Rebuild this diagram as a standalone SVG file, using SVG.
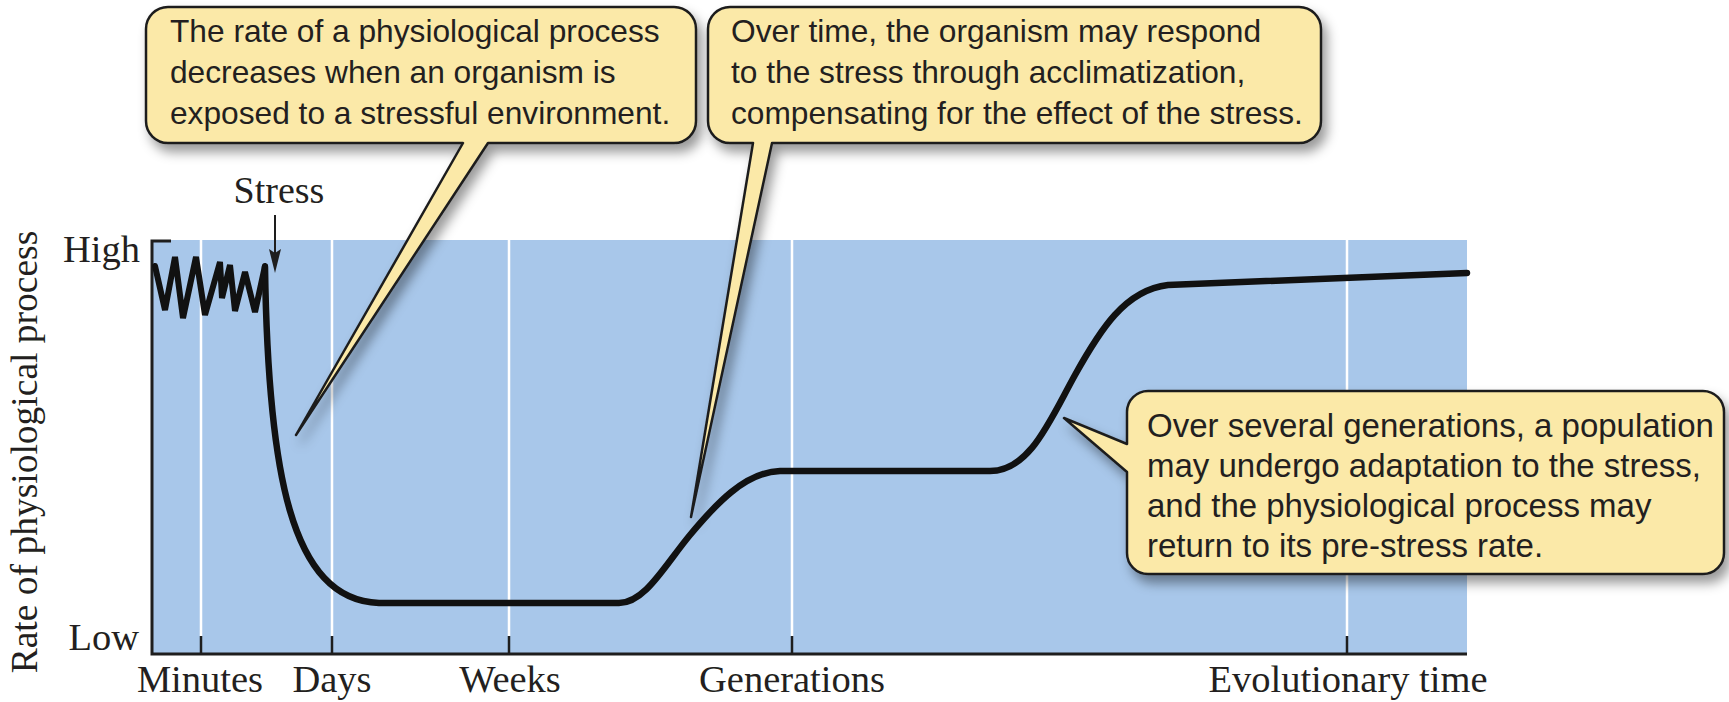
<svg xmlns="http://www.w3.org/2000/svg" width="1729" height="702" viewBox="0 0 1729 702">
<style>
.lbl{font-family:"Liberation Serif","Times New Roman",serif;font-size:38.5px;fill:#231f20}
.ct{font-family:"Liberation Sans",Arial,sans-serif;font-size:31.7px;fill:#231f20}
.ct3{font-family:"Liberation Sans",Arial,sans-serif;font-size:33px;fill:#231f20}
.call{fill:#fbe9a8;stroke:#1e1e1e;stroke-width:2.5;stroke-linejoin:round;filter:url(#sh)}
.grid{stroke:#ffffff;stroke-width:2.5}
.tick{stroke:#1e1e1e;stroke-width:2.5}
.curve{fill:none;stroke:#111;stroke-width:6.5;stroke-linecap:round;stroke-linejoin:round}
</style>
<defs>
<filter id="sh" x="-10%" y="-10%" width="125%" height="130%">
<feDropShadow dx="5" dy="8" stdDeviation="6" flood-color="#000" flood-opacity="0.4"/>
</filter>
</defs>
<rect width="1729" height="702" fill="#ffffff"/>
<g id="plot">
<rect x="152" y="240" width="1315" height="414" fill="#a8c7ea"/>
<line class="grid" x1="201" y1="240" x2="201" y2="636"/>
<line class="grid" x1="332" y1="240" x2="332" y2="636"/>
<line class="grid" x1="509" y1="240" x2="509" y2="636"/>
<line class="grid" x1="792" y1="240" x2="792" y2="636"/>
<line class="grid" x1="1347" y1="240" x2="1347" y2="636"/>
<line class="tick" x1="201" y1="636" x2="201" y2="654"/>
<line class="tick" x1="332" y1="636" x2="332" y2="654"/>
<line class="tick" x1="509" y1="636" x2="509" y2="654"/>
<line class="tick" x1="792" y1="636" x2="792" y2="654"/>
<line class="tick" x1="1347" y1="636" x2="1347" y2="654"/>
<path d="M171,241 H152 V654 H1467" fill="none" stroke="#1e1e1e" stroke-width="3"/>
</g>
<g id="data-curve">
<path class="curve" style="stroke-linejoin:miter;stroke-width:6" d="M155,266 L165,310 L175,257 L183,318 L196,257 L205,315 L220,262 L222,298 L230,265 L235,311 L245,272 L255,312 L265,266"/>
<path class="curve" d="M265,267 C268,470 290,600 379,603 L619,603 C645,603 665,565 690,535 S745,472 780,471 L990,471 C1030,471 1050,420 1075,375 S1125,290 1168,285 L1467,273"/>
</g>
<g id="axis-labels">
<text class="lbl" style="font-size:37.5px" transform="translate(37,452) rotate(-90)" text-anchor="middle">Rate of physiological process</text>
<text class="lbl" x="140" y="262" text-anchor="end">High</text>
<text class="lbl" x="139" y="650" text-anchor="end">Low</text>
<text class="lbl" x="200" y="692" text-anchor="middle">Minutes</text>
<text class="lbl" x="332" y="692" text-anchor="middle">Days</text>
<text class="lbl" x="510" y="692" text-anchor="middle">Weeks</text>
<text class="lbl" x="792" y="692" text-anchor="middle">Generations</text>
<text class="lbl" x="1348" y="692" text-anchor="middle">Evolutionary time</text>
</g>
<g id="stress-marker">
<text class="lbl" style="font-size:38px" x="279" y="203" text-anchor="middle">Stress</text>
<line x1="275" y1="215" x2="275" y2="255" stroke="#1e1e1e" stroke-width="2"/>
<path d="M269,249 L275,273 L281,249 L275,253 Z" fill="#1e1e1e"/>
</g>
<g id="callout-decrease">
<path class="call" d="M168,7 H674 A22,22 0 0 1 696,29 V121 A22,22 0 0 1 674,143 H488 L296,435 L463,143 H168 A22,22 0 0 1 146,121 V29 A22,22 0 0 1 168,7 Z"/>
<text class="ct" x="170" y="42">The rate of a physiological process</text>
<text class="ct" x="170" y="83">decreases when an organism is</text>
<text class="ct" x="170" y="124">exposed to a stressful environment.</text>
</g>
<g id="callout-acclimatization">
<path class="call" d="M730,7 H1299 A22,22 0 0 1 1321,29 V121 A22,22 0 0 1 1299,143 H772 L691,517 L753,143 H730 A22,22 0 0 1 708,121 V29 A22,22 0 0 1 730,7 Z"/>
<text class="ct" x="731" y="42">Over time, the organism may respond</text>
<text class="ct" x="731" y="83">to the stress through acclimatization,</text>
<text class="ct" x="731" y="124">compensating for the effect of the stress.</text>
</g>
<g id="callout-adaptation">
<path class="call" d="M1148,391 H1703 A21,21 0 0 1 1724,412 V553 A21,21 0 0 1 1703,574 H1148 A21,21 0 0 1 1127,553 V472 L1064,418 L1127,444 V412 A21,21 0 0 1 1148,391 Z"/>
<text class="ct3" x="1147" y="437">Over several generations, a population</text>
<text class="ct3" x="1147" y="477">may undergo adaptation to the stress,</text>
<text class="ct3" x="1147" y="517">and the physiological process may</text>
<text class="ct3" x="1147" y="557">return to its pre-stress rate.</text>
</g>
</svg>
